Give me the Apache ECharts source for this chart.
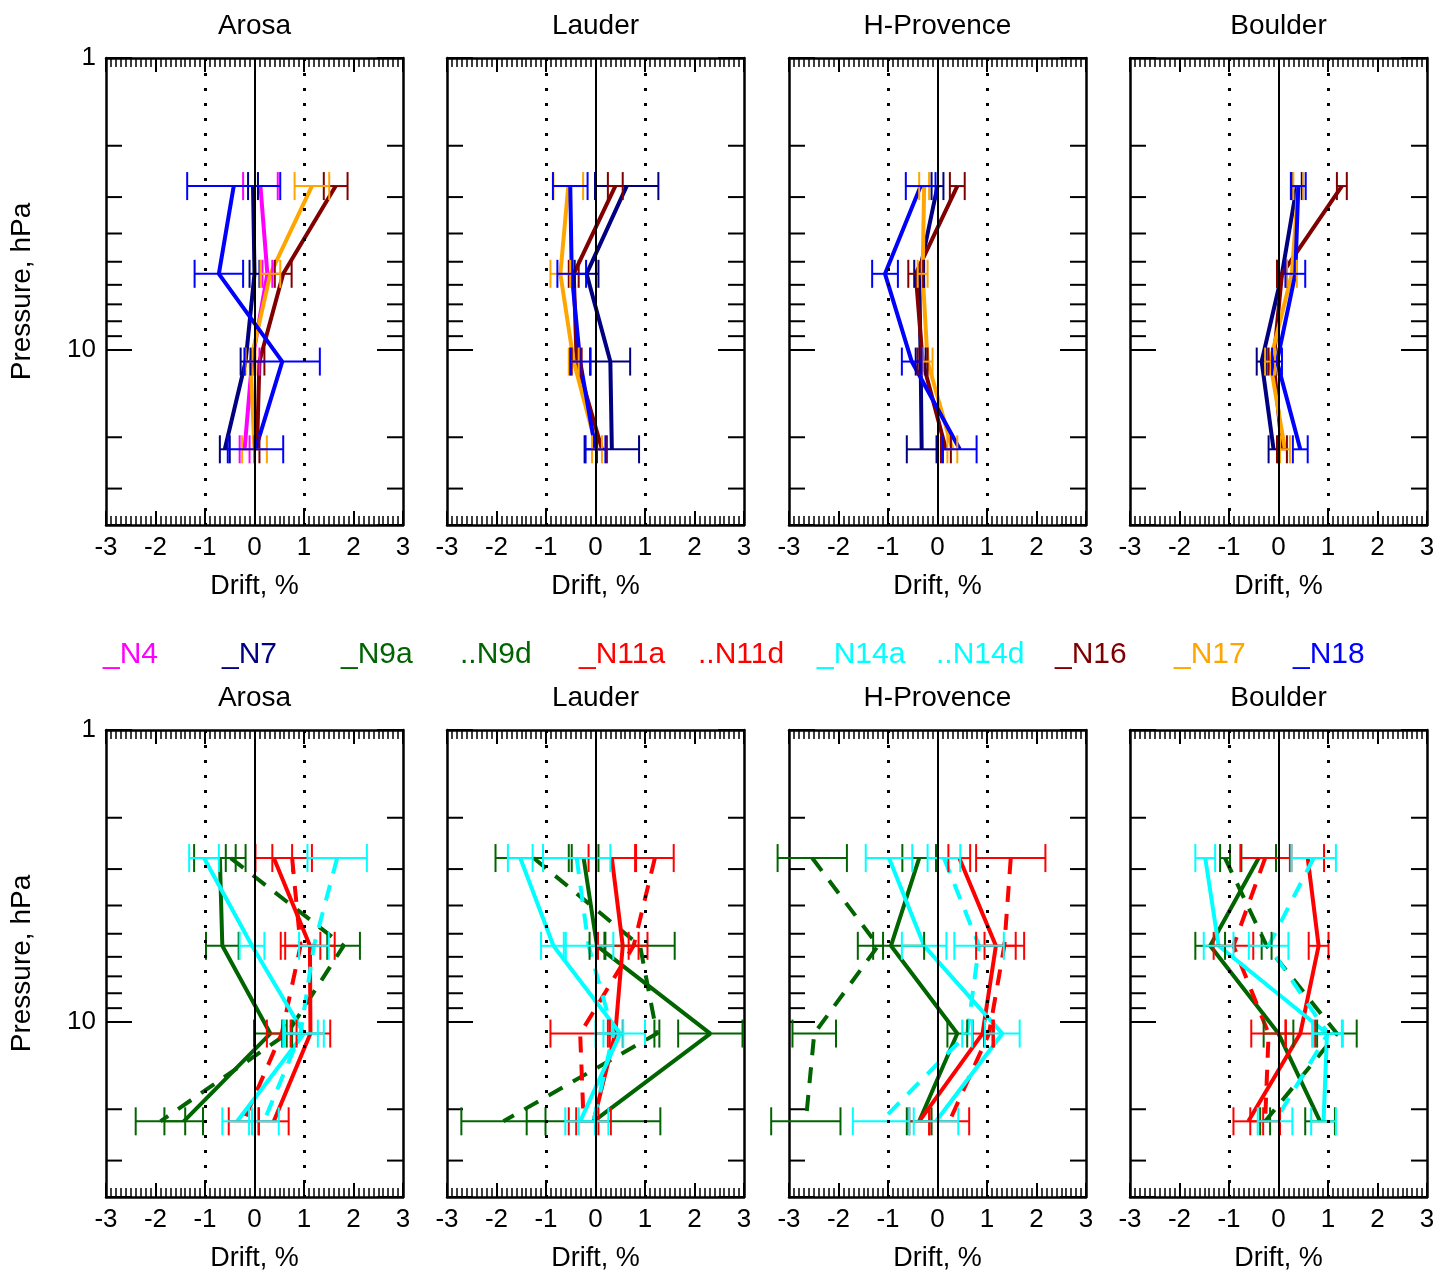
<!DOCTYPE html>
<html>
<head>
<meta charset="utf-8">
<script src="https://cdn.jsdelivr.net/npm/echarts@6/dist/echarts.min.js"></script>
<style>
  html, body { margin: 0; padding: 0; background: #fff; }
  #chart { width: 1453px; height: 1278px; }
</style>
</head>
<body>
<div id="chart"></div>
<script>
// pressure levels, hPa (top to bottom)
const levels = [2.75, 5.5, 11, 22];
const stations = ['Arosa', 'Lauder', 'H-Provence', 'Boulder'];
const xTicks = [-3, -2, -1, 0, 1, 2, 3];
const minorPressureTicks = [2, 3, 4, 5, 6, 7, 8, 9, 20, 30];
const legendNames = ['_N4', '_N7', '_N9a', '..N9d', '_N11a', '..N11d', '_N14a', '..N14d', '_N16', '_N17', '_N18'];

// [drift %, error %] per level
// top row
const arosaN4  = [[0.12, 0.35], [0.26, 0.1], [-0.05, 0.15], [-0.2, 0.1]];
const arosaN7  = [[-0.03, 0.1], [0.0, 0.1], [-0.18, 0.1], [-0.6, 0.1]];
const arosaN16 = [[1.64, 0.24], [0.58, 0.17], [0.1, 0.1], [0.05, 0.05]];
const arosaN17 = [[1.16, 0.35], [0.32, 0.2], [-0.08, 0.1], [0.0, 0.25]];
const arosaN18 = [[-0.42, 0.94], [-0.72, 0.49], [0.56, 0.76], [0.02, 0.56]];

const lauderN7  = [[0.63, 0.64], [-0.18, 0.24], [0.3, 0.4], [0.33, 0.55]];
const lauderN16 = [[0.4, 0.15], [-0.44, 0.1], [-0.38, 0.1], [0.13, 0.1]];
const lauderN17 = [[-0.55, 0.3], [-0.71, 0.2], [-0.44, 0.1], [0.03, 0.1]];
const lauderN18 = [[-0.51, 0.35], [-0.48, 0.29], [-0.31, 0.2], [0.0, 0.2]];

const provenceN7  = [[0.0, 0.12], [-0.37, 0.1], [-0.34, 0.1], [-0.32, 0.3]];
const provenceN16 = [[0.4, 0.15], [-0.44, 0.15], [-0.3, 0.1], [0.17, 0.1]];
const provenceN17 = [[-0.27, 0.1], [-0.3, 0.1], [-0.2, 0.1], [0.3, 0.1]];
const provenceN18 = [[-0.34, 0.3], [-1.06, 0.26], [-0.52, 0.2], [0.45, 0.34]];

const boulderN7  = [[0.37, 0.1], [0.07, 0.1], [-0.34, 0.1], [-0.1, 0.1]];
const boulderN16 = [[1.28, 0.1], [0.07, 0.1], [-0.1, 0.1], [0.07, 0.1]];
const boulderN17 = [[0.4, 0.1], [0.27, 0.1], [-0.17, 0.1], [0.13, 0.1]];
const boulderN18 = [[0.4, 0.15], [0.34, 0.2], [-0.03, 0.1], [0.44, 0.15]];

// bottom row
const arosaN9a  = [[-0.7, 0.52], [-0.65, 0.33], [0.32, 0.33], [-1.43, 0.39]];
const arosaN9d  = [[-0.48, 0.1], [1.8, 0.33], [0.66, 0.1], [-1.9, 0.5]];
const arosaN11a = [[0.39, 0.37], [1.12, 0.5], [1.13, 0.4], [0.39, 0.3]];
const arosaN11d = [[0.76, 0.4], [0.93, 0.4], [0.55, 0.3], [-0.22, 0.3]];
const arosaN14a = [[-1.02, 0.3], [-0.05, 0.25], [1.0, 0.4], [-0.35, 0.3]];
const arosaN14d = [[1.67, 0.6], [1.2, 0.3], [0.93, 0.35], [0.19, 0.3]];

const lauderN9a  = [[-0.24, 0.3], [0.03, 0.15], [2.32, 0.65], [-0.04, 1.35]];
const lauderN9d  = [[-1.25, 0.77], [0.9, 0.7], [1.24, 0.05], [-1.86, 0.85]];
const lauderN11a = [[0.33, 0.47], [0.55, 0.5], [0.4, 0.15], [-0.04, 0.35]];
const lauderN11d = [[1.2, 0.38], [0.77, 0.1], [-0.31, 0.6], [-0.24, 0.3]];
const lauderN14a = [[-1.52, 0.25], [-0.85, 0.25], [0.5, 0.5], [-0.31, 0.3]];
const lauderN14d = [[-0.38, 0.68], [-0.14, 0.5], [0.36, 0.2], [-0.04, 0.3]];

const provenceN9a  = [[-0.37, 0.34], [-0.94, 0.67], [0.4, 0.2], [-0.37, 0.25]];
const provenceN9d  = [[-2.53, 0.7], [-1.2, 0.1], [-2.49, 0.44], [-2.66, 0.7]];
const provenceN11a = [[0.44, 0.22], [1.18, 0.4], [0.91, 0.2], [-0.37, 0.2]];
const provenceN11d = [[1.48, 0.7], [1.35, 0.4], [1.04, 0.1], [0.24, 0.4]];
const provenceN14a = [[-0.98, 0.47], [-0.27, 0.45], [1.31, 0.35], [-0.03, 0.45]];
const provenceN14d = [[0.13, 0.33], [0.84, 0.5], [0.6, 0.1], [-1.14, 0.57]];

const boulderN9a  = [[-0.4, 0.35], [-1.38, 0.3], [0.0, 0.3], [0.84, 0.3]];
const boulderN9d  = [[-1.08, 0.1], [-0.24, 0.1], [1.18, 0.4], [-0.27, 0.1]];
const boulderN11a = [[0.59, 0.33], [0.81, 0.2], [0.44, 0.3], [-0.61, 0.3]];
const boulderN11d = [[-0.27, 0.5], [-0.91, 0.4], [-0.2, 0.35], [-0.27, 0.3]];
const boulderN14a = [[-1.48, 0.2], [-1.21, 0.3], [0.98, 0.3], [0.91, 0.25]];
const boulderN14d = [[0.71, 0.45], [-0.2, 0.4], [1.0, 0.3], [-0.07, 0.35]];

const colors = {
  N4: '#ff00ff', N7: '#000080', N9: '#006400', N11: '#ff0000',
  N14: '#00ffff', N16: '#800000', N17: '#ffa500', N18: '#0000ff'
};
const legendColors = [colors.N4, colors.N7, colors.N9, colors.N9, colors.N11, colors.N11,
  colors.N14, colors.N14, colors.N16, colors.N17, colors.N18];

// panel contents: [data, color, dashed]
const topPanels = [
  [[arosaN4, colors.N4], [arosaN7, colors.N7], [arosaN16, colors.N16], [arosaN17, colors.N17], [arosaN18, colors.N18]],
  [[lauderN7, colors.N7], [lauderN16, colors.N16], [lauderN17, colors.N17], [lauderN18, colors.N18]],
  [[provenceN7, colors.N7], [provenceN16, colors.N16], [provenceN17, colors.N17], [provenceN18, colors.N18]],
  [[boulderN7, colors.N7], [boulderN16, colors.N16], [boulderN17, colors.N17], [boulderN18, colors.N18]]
];
const bottomPanels = [
  [[arosaN9a, colors.N9], [arosaN9d, colors.N9, true], [arosaN11a, colors.N11], [arosaN11d, colors.N11, true], [arosaN14a, colors.N14], [arosaN14d, colors.N14, true]],
  [[lauderN9a, colors.N9], [lauderN9d, colors.N9, true], [lauderN11a, colors.N11], [lauderN11d, colors.N11, true], [lauderN14a, colors.N14], [lauderN14d, colors.N14, true]],
  [[provenceN9a, colors.N9], [provenceN9d, colors.N9, true], [provenceN11a, colors.N11], [provenceN11d, colors.N11, true], [provenceN14a, colors.N14], [provenceN14d, colors.N14, true]],
  [[boulderN9a, colors.N9], [boulderN9d, colors.N9, true], [boulderN11a, colors.N11], [boulderN11d, colors.N11, true], [boulderN14a, colors.N14], [boulderN14d, colors.N14, true]]
];

const FONT = 'Liberation Sans, Arial, sans-serif';
const colLeft = [106, 447, 789, 1130];
const rowTop = [58, 730];
const W = 297, H = 467;

let grids = [], xAxes = [], yAxes = [], series = [], graphics = [];

function errorBarItem(params, api) {
  const x = api.value(0), y = api.value(1), e = api.value(2);
  const a = api.coord([x - e, y]);
  const b = api.coord([x + e, y]);
  const c = 14;
  const style = { stroke: api.visual('color'), lineWidth: 2 };
  return {
    type: 'group',
    children: [
      { type: 'line', shape: { x1: a[0], y1: a[1], x2: b[0], y2: b[1] }, style: style },
      { type: 'line', shape: { x1: a[0], y1: a[1] - c, x2: a[0], y2: a[1] + c }, style: style },
      { type: 'line', shape: { x1: b[0], y1: b[1] - c, x2: b[0], y2: b[1] + c }, style: style }
    ]
  };
}

function minorTickItem(params, api) {
  const v = api.value(0);
  const l = api.coord([-3, v]);
  const r = api.coord([3, v]);
  const style = { stroke: '#000', lineWidth: 2 };
  return {
    type: 'group',
    children: [
      { type: 'line', shape: { x1: l[0], y1: l[1], x2: l[0] + 16, y2: l[1] }, style: style },
      { type: 'line', shape: { x1: r[0], y1: r[1], x2: r[0] - 16, y2: r[1] }, style: style }
    ]
  };
}

[topPanels, bottomPanels].forEach(function (panels, row) {
  panels.forEach(function (panel, col) {
    const g = grids.length;
    grids.push({ left: colLeft[col], top: rowTop[row], width: W, height: H });

    const xBase = {
      gridIndex: g, type: 'value', min: -3, max: 3, interval: 1,
      axisLine: { onZero: false, lineStyle: { color: '#000', width: 2.5 } },
      axisTick: { inside: true, length: 14, lineStyle: { color: '#000', width: 2 } },
      minorTick: { show: true, splitNumber: 10, length: 9, lineStyle: { color: '#000', width: 1.5 } },
      splitLine: { show: false }
    };
    xAxes.push(Object.assign({}, xBase, {
      position: 'bottom',
      axisLabel: { color: '#000', fontSize: 26, fontFamily: FONT, margin: 10 },
      name: 'Drift, %', nameLocation: 'middle', nameGap: 48,
      nameTextStyle: { color: '#000', fontSize: 27, fontFamily: FONT }
    }));
    xAxes.push(Object.assign({}, xBase, {
      position: 'top',
      axisLabel: { show: false },
      name: stations[col], nameLocation: 'middle', nameGap: 18,
      nameTextStyle: { color: '#000', fontSize: 28, fontFamily: FONT }
    }));
    const yBase = {
      gridIndex: g, type: 'log', logBase: 10, min: 1, max: 40, inverse: true,
      axisLine: { show: true, onZero: false, lineStyle: { color: '#000', width: 2.5 } },
      axisTick: { inside: true, length: 26, lineStyle: { color: '#000', width: 2 } },
      minorTick: { show: false }, splitLine: { show: false }
    };
    yAxes.push(Object.assign({}, yBase, {
      position: 'left',
      axisLabel: {
        show: col === 0, color: '#000', fontSize: 26, fontFamily: FONT, margin: 10,
        formatter: function (v) { return (v === 1 || v === 10) ? String(v) : ''; }
      },
      name: col === 0 ? 'Pressure, hPa' : '', nameLocation: 'middle', nameGap: 70, nameRotate: 90,
      nameTextStyle: { color: '#000', fontSize: 28, fontFamily: FONT }
    }));
    yAxes.push(Object.assign({}, yBase, { position: 'right', axisLabel: { show: false } }));

    const xi = 2 * g, yi = 2 * g;

    // minor pressure ticks + reference lines
    series.push({
      type: 'custom', xAxisIndex: xi, yAxisIndex: yi, silent: true,
      renderItem: minorTickItem,
      data: minorPressureTicks.map(function (v) { return [v]; }),
      encode: { y: 0 },
      markLine: {
        symbol: 'none', silent: true, label: { show: false },
        data: [
          { xAxis: -1, lineStyle: { color: '#000', type: [3, 12], width: 3 } },
          { xAxis: 0, lineStyle: { color: '#000', type: 'solid', width: 2 } },
          { xAxis: 1, lineStyle: { color: '#000', type: [3, 12], width: 3 } }
        ]
      }
    });

    panel.forEach(function (item) {
      const vals = item[0], color = item[1], dashed = !!item[2];
      series.push({
        type: 'line', xAxisIndex: xi, yAxisIndex: yi, silent: true,
        symbol: 'none', z: 3,
        lineStyle: { color: color, width: 4, type: dashed ? [16, 12] : 'solid' },
        data: vals.map(function (d, i) { return [d[0], levels[i]]; })
      });
      series.push({
        type: 'custom', xAxisIndex: xi, yAxisIndex: yi, silent: true, z: 4,
        itemStyle: { color: color },
        renderItem: errorBarItem,
        data: vals.map(function (d, i) { return [d[0], levels[i], d[1]]; })
      });
    });
  });
});

// legend row
legendNames.forEach(function (name, i) {
  graphics.push({
    type: 'text', left: 103 + i * 119, top: 640,
    style: { text: name, fill: legendColors[i], fontSize: 30, fontFamily: FONT }
  });
});

const chart = echarts.init(document.getElementById('chart'));
chart.setOption({
  animation: false,
  backgroundColor: '#fff',
  grid: grids,
  xAxis: xAxes,
  yAxis: yAxes,
  series: series,
  graphic: graphics
});
</script>
</body>
</html>
